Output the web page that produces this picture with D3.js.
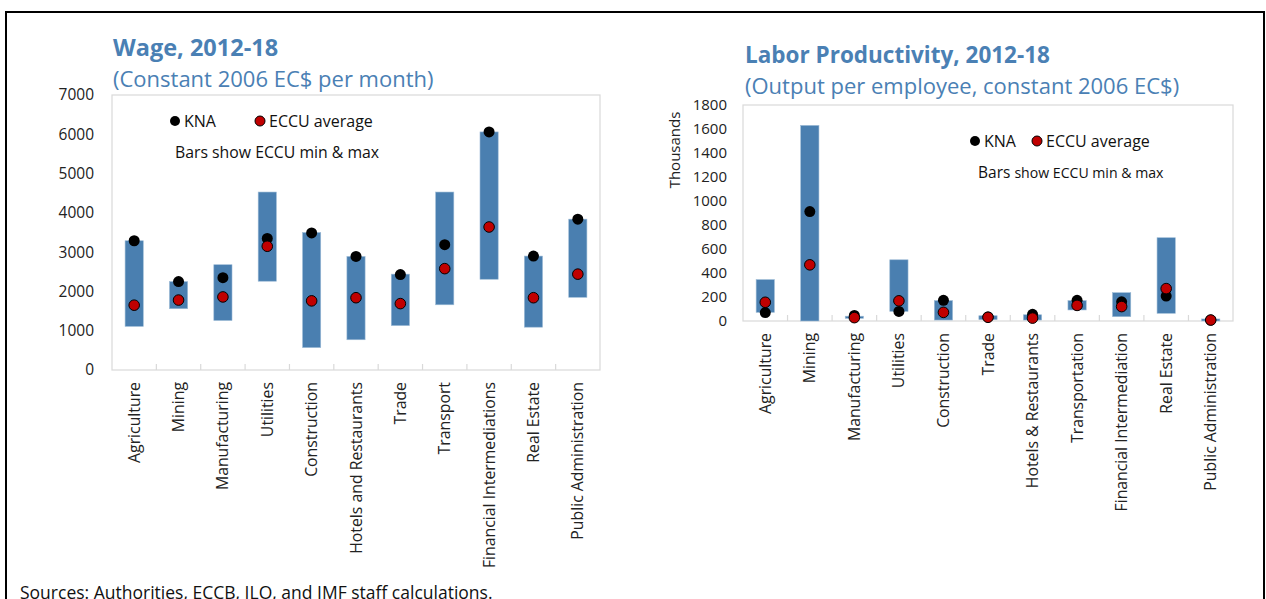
<!DOCTYPE html>
<html>
<head>
<meta charset="utf-8">
<script src="https://cdn.jsdelivr.net/npm/d3@7"></script>
<style>
    body { margin: 0; background: #fff; }
    svg text { font-family: "Open Sans", "Noto Sans", sans-serif; }
</style>
</head>
<body>
<div id="chart"></div>
<script>
// Wage panel data (EC$ per month)
const wageCategories = ["Agriculture", "Mining", "Manufacturing", "Utilities", "Construction",
    "Hotels and Restaurants", "Trade", "Transport", "Financial Intermediations", "Real Estate",
    "Public Administration"];
const wageMin = [1110, 1560, 1260, 2260, 570, 770, 1130, 1660, 2310, 1090, 1850];
const wageMax = [3290, 2250, 2680, 4530, 3500, 2890, 2440, 4530, 6060, 2900, 3840];
const wageKNA = [3290, 2250, 2350, 3350, 3490, 2890, 2430, 3190, 6060, 2900, 3840];
const wageECCU = [1650, 1780, 1860, 3150, 1760, 1840, 1690, 2580, 3640, 1840, 2440];
const wageTicks = [0, 1000, 2000, 3000, 4000, 5000, 6000, 7000];

// Labor productivity panel data (thousands)
const prodCategories = ["Agriculture", "Mining", "Manufacturing", "Utilities", "Construction",
    "Trade", "Hotels & Restaurants", "Transportation", "Financial Intermediation", "Real Estate",
    "Public Administration"];
const prodMin = [72, 0, 22, 80, 8, 11, 8, 92, 36, 64, 3];
const prodMax = [345, 1630, 40, 510, 170, 44, 52, 170, 236, 694, 17];
const prodKNA = [70, 912, 46, 80, 172, 34, 56, 172, 160, 208, 8];
const prodECCU = [156, 468, 28, 168, 72, 31, 24, 130, 120, 270, 8];
const prodTicks = [0, 200, 400, 600, 800, 1000, 1200, 1400, 1600, 1800];

const titleColor = "#4a80b4";
const barColor = "#4a7fb0";

const svg = d3.select("#chart").append("svg")
    .attr("width", 1266)
    .attr("height", 599);

// outer frame
svg.append("rect")
    .attr("x", 6).attr("y", 12)
    .attr("width", 1258).attr("height", 620)
    .attr("fill", "none")
    .attr("stroke", "#000")
    .attr("stroke-width", 2);

function drawPanel(opt) {
    const g = svg.append("g");
    const { left, right, top, bottom } = opt.box;

    const x = d3.scaleBand().domain(opt.categories).range([left, right]);
    const y = d3.scaleLinear().domain([0, opt.ticks[opt.ticks.length - 1]]).range([bottom, top]);

    // titles
    g.append("text")
        .attr("x", opt.titleX).attr("y", opt.titleY)
        .attr("fill", titleColor)
        .attr("font-size", opt.titleSize).attr("font-weight", "bold")
        .text(opt.title);
    g.append("text")
        .attr("x", opt.titleX).attr("y", opt.titleY + 31)
        .attr("fill", titleColor)
        .attr("font-size", 22)
        .text(opt.subtitle);

    // plot area border
    g.append("rect")
        .attr("x", left).attr("y", top)
        .attr("width", right - left).attr("height", bottom - top)
        .attr("fill", "none")
        .attr("stroke", "#d9d9d9")
        .attr("stroke-width", 1.2);

    // y axis labels
    const yAxis = g.append("g")
        .attr("transform", `translate(${left},0)`)
        .call(d3.axisLeft(y).tickValues(opt.ticks).tickSize(0).tickPadding(opt.tickPad).tickFormat(d3.format("d")));
    yAxis.select(".domain").remove();
    yAxis.selectAll("text").attr("font-size", opt.tickSize).attr("fill", "#222");

    // x axis labels, rotated
    const xAxis = g.append("g")
        .attr("transform", `translate(0,${bottom})`)
        .call(d3.axisBottom(x).tickSize(0));
    xAxis.select(".domain").remove();
    xAxis.selectAll("text")
        .attr("font-size", 15.8).attr("fill", "#222")
        .attr("text-anchor", "end")
        .attr("transform", "rotate(-90)")
        .attr("x", -12).attr("y", 0).attr("dy", "0.35em");

    // small ticks between categories
    g.selectAll(".cat-tick")
        .data(opt.categories.slice(1))
        .enter().append("line")
        .attr("x1", d => x(d)).attr("x2", d => x(d))
        .attr("y1", bottom).attr("y2", bottom - 6)
        .attr("stroke", "#d9d9d9").attr("stroke-width", 1.2);

    const bw = x.bandwidth() * 0.41;
    const cx = i => x(opt.categories[i]) + x.bandwidth() / 2;

    // min-max bars
    g.selectAll(".range-bar")
        .data(opt.min)
        .enter().append("rect")
        .attr("x", (d, i) => cx(i) - bw / 2)
        .attr("y", (d, i) => y(opt.max[i]))
        .attr("width", bw)
        .attr("height", (d, i) => Math.max(y(d) - y(opt.max[i]), 2))
        .attr("fill", barColor)
        .attr("stroke", "#9dbbd6").attr("stroke-width", 0.6);

    // KNA dots
    g.selectAll(".kna-dot")
        .data(opt.kna)
        .enter().append("circle")
        .attr("cx", (d, i) => cx(i))
        .attr("cy", d => y(d))
        .attr("r", 5.5)
        .attr("fill", "#000");

    // ECCU average dots
    g.selectAll(".eccu-dot")
        .data(opt.eccu)
        .enter().append("circle")
        .attr("cx", (d, i) => cx(i))
        .attr("cy", d => y(d))
        .attr("r", 5.3)
        .attr("fill", "#c00000")
        .attr("stroke", "#000").attr("stroke-width", 1);

    // legend
    const lg = opt.legend;
    g.append("circle").attr("cx", lg.x).attr("cy", lg.y).attr("r", 5).attr("fill", "#000");
    g.append("text").attr("x", lg.x + 9).attr("y", lg.y).attr("dy", "0.35em")
        .attr("font-size", 16).attr("fill", "#111").text("KNA");
    g.append("circle").attr("cx", lg.x2).attr("cy", lg.y).attr("r", 5)
        .attr("fill", "#c00000").attr("stroke", "#000").attr("stroke-width", 1);
    g.append("text").attr("x", lg.x2 + 9).attr("y", lg.y).attr("dy", "0.35em")
        .attr("font-size", 16).attr("fill", "#111").text("ECCU average");

    const note = g.append("text").attr("x", lg.noteX).attr("y", lg.noteY).attr("dy", "0.35em")
        .attr("fill", "#111");
    if (lg.mixed) {
        note.append("tspan").attr("font-size", 15.5).text("Bars ");
        note.append("tspan").attr("font-size", 14.1).text("show ECCU min & max");
    } else {
        note.attr("font-size", 15.8).text("Bars show ECCU min & max");
    }

    if (opt.yTitle) {
        g.append("text")
            .attr("transform", `translate(${opt.yTitle.x},${opt.yTitle.y}) rotate(-90)`)
            .attr("text-anchor", "middle")
            .attr("dy", "0.35em")
            .attr("font-size", 15).attr("fill", "#222")
            .text(opt.yTitle.text);
    }
}

drawPanel({
    categories: wageCategories,
    min: wageMin, max: wageMax, kna: wageKNA, eccu: wageECCU,
    ticks: wageTicks,
    box: { left: 112, right: 600, top: 95, bottom: 370 },
    tickPad: 18, tickSize: 15.5,
    title: "Wage, 2012-18", titleSize: 23.5,
    subtitle: "(Constant 2006 EC$ per month)",
    titleX: 113, titleY: 56,
    legend: { x: 175, x2: 260, y: 121, noteX: 175, noteY: 152, mixed: false }
});

drawPanel({
    categories: prodCategories,
    min: prodMin, max: prodMax, kna: prodKNA, eccu: prodECCU,
    ticks: prodTicks,
    box: { left: 743, right: 1233, top: 105, bottom: 321 },
    tickPad: 16, tickSize: 15,
    title: "Labor Productivity, 2012-18", titleSize: 22.5,
    subtitle: "(Output per employee, constant 2006 EC$)",
    titleX: 745, titleY: 63,
    legend: { x: 975, x2: 1037, y: 141, noteX: 978, noteY: 172, mixed: true },
    yTitle: { x: 675, y: 150, text: "Thousands" }
});

// source note
svg.append("text")
    .attr("x", 20).attr("y", 599)
    .attr("font-size", 17.5).attr("fill", "#111")
    .text("Sources: Authorities, ECCB, ILO, and IMF staff calculations.");
</script>
</body>
</html>
